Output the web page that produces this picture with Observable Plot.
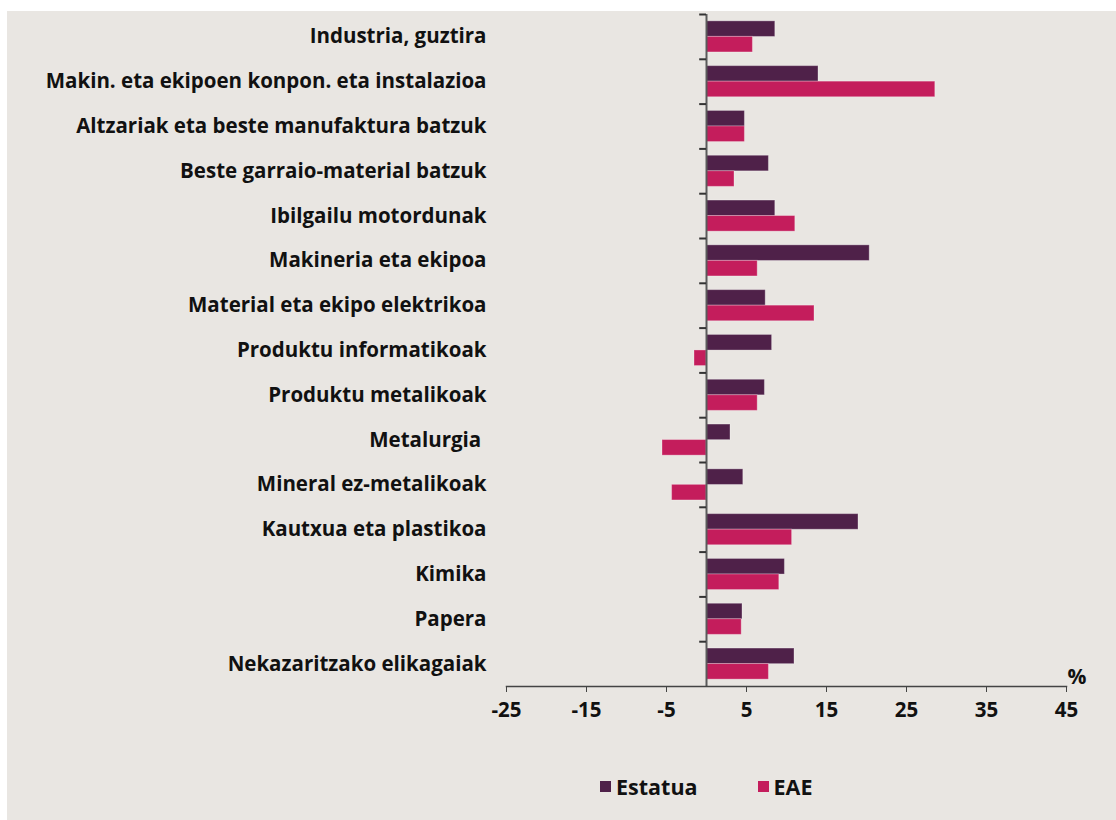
<!DOCTYPE html>
<html>
<head>
<meta charset="utf-8">
<script src="https://cdn.jsdelivr.net/npm/d3@7"></script>
<script src="https://cdn.jsdelivr.net/npm/@observablehq/plot@0.6"></script>
<style>
  html, body { margin: 0; padding: 0; background: #ffffff; }
  #wrap { position: relative; width: 1116px; height: 820px; overflow: hidden; font-family: "Open Sans", "Noto Sans", sans-serif; }
  #panel { position: absolute; left: 7px; top: 11px; width: 1109px; height: 809px; background: #e9e6e2; }
  #chart { position: absolute; left: 0; top: 0; }
  #legend { position: absolute; left: 600px; top: 772px; height: 28px; display: flex; align-items: center; font-size: 21.5px; font-weight: 700; color: #111; }
  .sw { width: 11px; height: 11px; display: inline-block; margin-right: 5px; }
  .item { display: flex; align-items: center; }
</style>
</head>
<body>
<div id="wrap">
  <div id="panel"></div>
  <div id="chart"></div>
  <div id="legend"></div>
</div>
<script>
const categories = [
  "Industria, guztira",
  "Makin. eta ekipoen konpon. eta instalazioa",
  "Altzariak eta beste manufaktura batzuk",
  "Beste garraio-material batzuk",
  "Ibilgailu motordunak",
  "Makineria eta ekipoa",
  "Material eta ekipo elektrikoa",
  "Produktu informatikoak",
  "Produktu metalikoak",
  "Metalurgia ",
  "Mineral ez-metalikoak",
  "Kautxua eta plastikoa",
  "Kimika",
  "Papera",
  "Nekazaritzako elikagaiak"
];
const seriesNames = ["Estatua", "EAE"];
const estatua = [8.6, 14.0, 4.8, 7.8, 8.6, 20.4, 7.4, 8.2, 7.3, 3.0, 4.6, 19.0, 9.8, 4.5, 11.0];
const eae     = [5.8, 28.6, 4.8, 3.5, 11.1, 6.4, 13.5, -1.5, 6.4, -5.5, -4.3, 10.7, 9.1, 4.4, 7.8];
const xTicks = [-25, -15, -5, 5, 15, 25, 35, 45];
const colors = ["#4f2149", "#c41d5c"];

const rowsEstatua = categories.map((c, i) => ({category: c, value: estatua[i]}));
const rowsEae = categories.map((c, i) => ({category: c, value: eae[i]}));

const font = "'Open Sans', 'Noto Sans', sans-serif";

const chart = Plot.plot({
  width: 1116,
  height: 740,
  marginLeft: 506,
  marginRight: 50,
  marginTop: 14,
  marginBottom: 54,
  style: {background: "transparent", fontFamily: font, color: "#111"},
  x: {domain: [-25, 45]},
  y: {domain: categories, padding: 0, round: false},
  marks: [
    Plot.barX(rowsEstatua, {y: "category", x1: 0, x2: "value", fill: colors[0], stroke: "#ffffff", strokeOpacity: 0.3, strokeWidth: 1, insetTop: 14.6, insetBottom: 14.6, dy: -7.75}),
    Plot.barX(rowsEae, {y: "category", x1: 0, x2: "value", fill: colors[1], stroke: "#ffffff", strokeOpacity: 0.3, strokeWidth: 1, insetTop: 14.6, insetBottom: 14.6, dy: 7.75}),
    Plot.ruleX([0], {stroke: "#5a5a5a", strokeWidth: 2}),
    Plot.ruleY(categories, {y: d => d, x1: -0.85, x2: 0, dy: -22.4, stroke: "#333", strokeWidth: 2}),
    Plot.frame({anchor: "bottom", stroke: "#444", strokeWidth: 1.5}),
    Plot.axisX({ticks: xTicks, tickFormat: d => String(d), tickSize: 6, tickPadding: 10, fontSize: 20.5, fontWeight: 700, stroke: "#444", label: null}),
    Plot.axisY({tickSize: 0, tickPadding: 20, fontSize: 20.5, fontWeight: 700, label: null}),
    Plot.text(["%"], {frameAnchor: "bottom-right", text: d => d, textAnchor: "start", lineAnchor: "bottom", dx: 1, dy: -3, fontSize: 21, fontWeight: 700, fill: "#111"})
  ]
});
document.getElementById("chart").appendChild(chart);

const legend = document.getElementById("legend");
seriesNames.forEach((name, i) => {
  const item = document.createElement("div");
  item.className = "item";
  if (i > 0) item.style.marginLeft = "60px";
  const sw = document.createElement("span");
  sw.className = "sw";
  sw.style.background = colors[i];
  item.appendChild(sw);
  const t = document.createElement("span");
  t.textContent = name;
  item.appendChild(t);
  legend.appendChild(item);
});
</script>
</body>
</html>
